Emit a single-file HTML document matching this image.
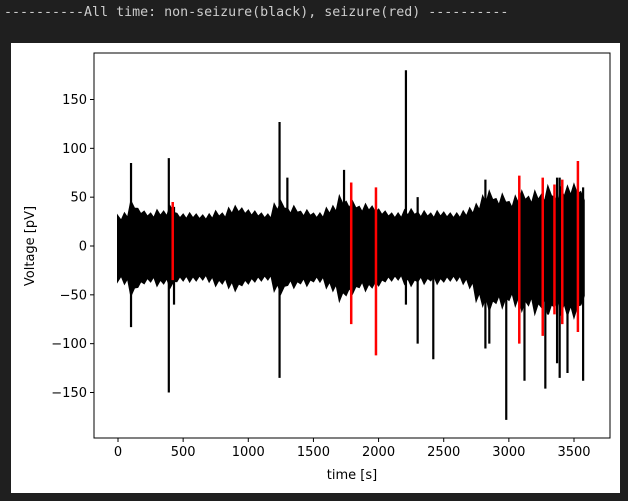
<!DOCTYPE html>
<html><head><meta charset="utf-8"><style>
body{margin:0;background:#1f1f1f;width:628px;height:501px;overflow:hidden;}
#hdr{position:absolute;left:4px;top:5px;font:13.3px "DejaVu Sans Mono","Liberation Mono",monospace;color:#cccccc;white-space:pre;}
#panel{position:absolute;left:11px;top:43px;width:609px;height:450px;background:#fff;}
svg{position:absolute;left:0;top:0;}
text{font-family:"DejaVu Sans","Liberation Sans",sans-serif;font-size:13px;fill:#000;}
</style></head><body>
<div id="hdr">----------All time: non-seizure(black), seizure(red) ----------</div>
<div id="panel"></div>
<svg id="chart" width="628" height="501"></svg>
<script>
const xTicks=[0,500,1000,1500,2000,2500,3000,3500];
const yTicks=[-150,-100,-50,0,50,100,150];
const binSize=50;
const envTop=[30,33,45,38,35,33,36,35,40,33,32,33,32,31,32,35,33,38,40,38,36,35,33,32,42,45,38,40,35,36,33,33,38,40,50,45,45,40,42,40,37,35,33,33,36,37,34,35,33,35,34,33,33,35,38,42,50,55,48,52,45,50,55,50,55,52,60,50,58,60,62,55];
const envBot=[-35,-38,-50,-42,-38,-36,-40,-38,-42,-36,-35,-36,-35,-34,-36,-40,-38,-42,-45,-40,-38,-36,-35,-34,-45,-48,-40,-42,-38,-40,-36,-36,-42,-45,-55,-50,-48,-42,-45,-42,-40,-36,-35,-34,-38,-40,-36,-38,-35,-38,-36,-35,-35,-38,-42,-55,-60,-65,-58,-62,-55,-60,-65,-60,-68,-62,-70,-62,-68,-70,-72,-60];
const spikes=[[100,85,-83],[390,90,-150],[430,40,-60],[1240,127,-135],[1300,70,-30],[1735,78,-30],[2210,180,-60],[2300,50,-100],[2420,30,-116],[2820,68,-105],[2850,45,-100],[2980,40,-178],[3120,40,-138],[3280,40,-146],[3370,70,-120],[3390,70,-135],[3450,50,-130],[3570,60,-138]];
const seizures=[[420,45,-35],[1790,65,-80],[1980,60,-112],[3080,72,-100],[3260,70,-92],[3350,63,-70],[3410,68,-80],[3530,87,-88]];
const NS='http://www.w3.org/2000/svg';
const svg=document.getElementById('chart');
const X=t=>118+t*(456/3500);
const Y=v=>246-v*(293/300);
function mk(tag,attrs){const e=document.createElementNS(NS,tag);for(const k in attrs)e.setAttribute(k,attrs[k]);svg.appendChild(e);return e;}
let pts=[];
envTop.forEach((v,i)=>{pts.push(X(i*binSize)+','+Y(v));pts.push(X(i*binSize+binSize*0.5)+','+Y(v*0.85));});
for(let i=envBot.length-1;i>=0;i--){pts.push(X(i*binSize+binSize*0.5)+','+Y(envBot[i]*0.85));pts.push(X(i*binSize)+','+Y(envBot[i]));}
const band=mk('polygon',{points:pts.join(' '),fill:'#000',stroke:'#000','stroke-width':2});


spikes.forEach(s=>{const l=mk('line',{x1:X(s[0]),x2:X(s[0]),y1:Y(s[1]),y2:Y(s[2]),stroke:'#000','stroke-width':2.2});

});
seizures.forEach(s=>{const l=mk('line',{x1:X(s[0]),x2:X(s[0]),y1:Y(s[1]),y2:Y(s[2]),stroke:'#ff0000','stroke-width':2.5});

});
const frame=mk('rect',{x:94,y:53,width:516,height:385,fill:'none',stroke:'#000','stroke-width':1});


xTicks.forEach(t=>{mk('line',{x1:X(t),x2:X(t),y1:438,y2:442,stroke:'#000'});
const tx=mk('text',{x:X(t),y:456,'text-anchor':'middle'});tx.textContent=t;

});
yTicks.forEach(v=>{mk('line',{x1:90,x2:94,y1:Y(v),y2:Y(v),stroke:'#000'});
const tx=mk('text',{x:87,y:Y(v)+4.5,'text-anchor':'end'});tx.textContent=(v<0?'\u2212'+(-v):v);

});
const xl=mk('text',{x:352,y:479,'text-anchor':'middle'});xl.textContent='time [s]';


const yl=mk('text',{x:34,y:246,'text-anchor':'middle',transform:'rotate(-90 34 246)'});yl.textContent='Voltage [pV]';


</script>
</body></html>
